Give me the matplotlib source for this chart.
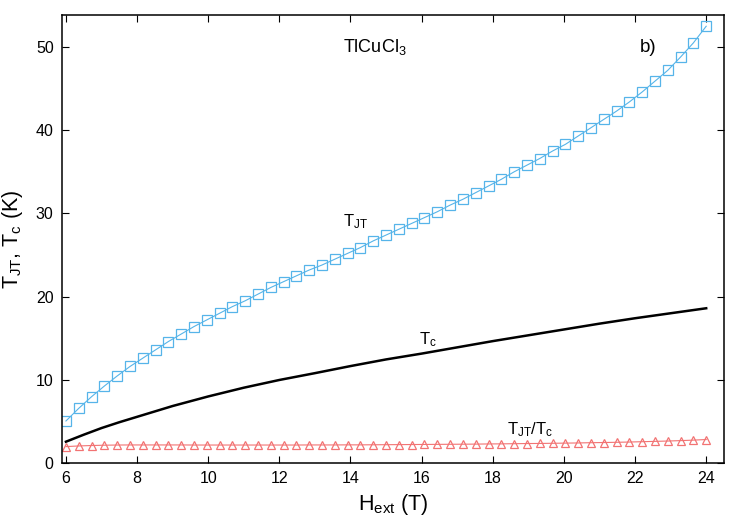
import numpy as np
import matplotlib
matplotlib.use("Agg")
import matplotlib.pyplot as plt

plt.rcParams["font.family"] = ["Liberation Sans", "DejaVu Sans"]
plt.rcParams["mathtext.fontset"] = "custom"
plt.rcParams["mathtext.rm"] = "Liberation Sans"
plt.rcParams["mathtext.default"] = "regular"

# field values of the marked points (0.36 T step)
h_pts = [6.00, 6.36, 6.72, 7.08, 7.44, 7.80, 8.16, 8.52, 8.88, 9.24,
         9.60, 9.96, 10.32, 10.68, 11.04, 11.40, 11.76, 12.12, 12.48, 12.84,
         13.20, 13.56, 13.92, 14.28, 14.64, 15.00, 15.36, 15.72, 16.08, 16.44,
         16.80, 17.16, 17.52, 17.88, 18.24, 18.60, 18.96, 19.32, 19.68, 20.04,
         20.40, 20.76, 21.12, 21.48, 21.84, 22.20, 22.56, 22.92, 23.28, 23.64,
         24.00]

t_jt = [5.05, 6.57, 7.97, 9.25, 10.46, 11.6, 12.6, 13.6, 14.6, 15.5,
        16.4, 17.2, 18.0, 18.8, 19.5, 20.3, 21.1, 21.8, 22.5, 23.2,
        23.8, 24.5, 25.2, 25.9, 26.7, 27.4, 28.1, 28.8, 29.5, 30.2,
        31.0, 31.7, 32.5, 33.3, 34.1, 35.0, 35.8, 36.6, 37.5, 38.3,
        39.3, 40.3, 41.3, 42.3, 43.4, 44.6, 45.9, 47.2, 48.8, 50.5,
        52.5]

ratio = [1.97, 2.05, 2.10, 2.14, 2.16, 2.17, 2.17, 2.17, 2.17, 2.17,
         2.16, 2.16, 2.16, 2.16, 2.16, 2.16, 2.16, 2.16, 2.16, 2.17,
         2.17, 2.17, 2.18, 2.18, 2.19, 2.20, 2.21, 2.22, 2.23, 2.24,
         2.25, 2.26, 2.27, 2.29, 2.30, 2.32, 2.34, 2.35, 2.37, 2.39,
         2.41, 2.44, 2.46, 2.49, 2.52, 2.56, 2.60, 2.64, 2.69, 2.75,
         2.82]

# Tc curve
h_tc = [6.0, 6.5, 7.0, 7.5, 8.0, 9.0, 10.0, 11.0, 12.0, 13.0, 14.0, 15.0,
        16.0, 17.0, 18.0, 19.0, 20.0, 21.0, 22.0, 23.0, 24.0]
t_c = [2.56, 3.4, 4.2, 4.9, 5.55, 6.85, 8.0, 9.05, 9.98, 10.8, 11.65, 12.45,
       13.15, 13.9, 14.65, 15.35, 16.05, 16.75, 17.4, 18.0, 18.6]

fig = plt.figure(figsize=(7.5, 5.25), dpi=100)
ax = fig.add_axes([0.0827, 0.1181, 0.8826, 0.8533])

ax.plot(h_pts, t_jt, color="#56b4e9", lw=0.8, marker="s", ms=7,
        mfc="none", mec="#56b4e9", mew=0.9)
ax.plot(h_tc, t_c, color="black", lw=1.8)
ax.plot(h_pts, ratio, color="#f27373", lw=0.8, marker="^", ms=5.5,
        mfc="none", mec="#f27373", mew=0.9)

ax.set_xlim(5.89, 24.5)
ax.set_ylim(0, 53.85)
ax.set_xticks(np.arange(6, 25, 2))
ax.set_yticks(np.arange(0, 51, 10))
ax.tick_params(direction="in", top=True, right=True, length=5,
               width=0.8, labelsize=11.5, pad=6)
for s in ax.spines.values():
    s.set_linewidth(1.1)

ax.set_xlabel("H$_{ext}$ (T)", fontsize=15.5, labelpad=4)
ax.set_ylabel("T$_{JT}$, T$_c$ (K)", fontsize=15.5, labelpad=8)

ax.text(14.69, 50.0, "TlCuCl$_3$", fontsize=13, ha="center", va="center")
ax.text(22.37, 50.0, "b)", fontsize=13.5, ha="center", va="center")
ax.text(14.13, 29.0, "T$_{JT}$", fontsize=12, ha="center", va="center")
ax.text(16.18, 14.8, "T$_c$", fontsize=12, ha="center", va="center")
ax.text(19.05, 4.0, "T$_{JT}$/T$_c$", fontsize=12, ha="center", va="center")

fig.savefig("out.png", dpi=100)
